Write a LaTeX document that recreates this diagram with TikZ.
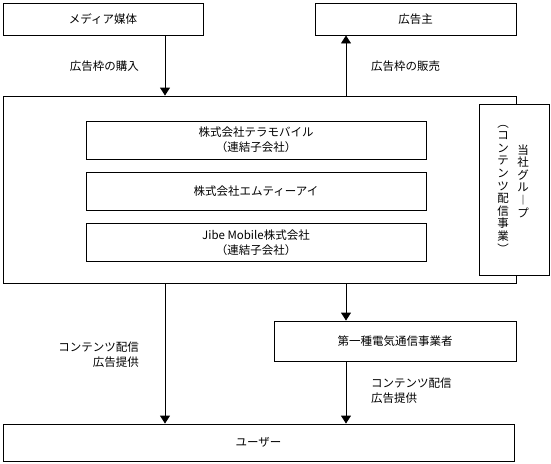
\documentclass[tikz,border=0pt]{standalone}
\usepackage{fontspec}
\setmainfont{Noto Sans CJK JP}
\usetikzlibrary{arrows.meta,positioning}

\begin{document}
\begin{tikzpicture}[x=1pt,y=-1pt,
  box/.style={draw,line width=0.9pt,fill=white,inner sep=0pt,align=center,font=\fontsize{11.5}{15}\selectfont},
  inbox/.style={box,minimum width=340pt,minimum height=38pt},
  arr/.style={-{Triangle[width=10pt,length=8pt]},line width=0.9pt},
  lbl/.style={inner sep=0pt,font=\fontsize{11.5}{15}\selectfont},
  vlbl/.style={inner sep=0pt,align=center,font=\fontsize{11.5}{12.6}\selectfont},
  node distance=12.5pt]
\useasboundingbox (0,0) rectangle (551,463);
\coordinate (leftx) at (165,0);
\coordinate (rightx) at (346,0);
\node[box,minimum width=200pt,minimum height=32pt] (media) at (103,19) {メディア媒体};
\node[box,minimum width=201pt,minimum height=32pt] (sponsor) at (415.5,19) {広告主};
\node[box,minimum width=513pt,minimum height=187pt] (group) at (259.5,189.5) {};
\node[inbox] (tera) at (256,140) {株式会社テラモバイル\\（連結子会社）};
\node[inbox,below=of tera] (mti) {株式会社エムティーアイ};
\node[inbox,below=of mti] (jibe) {Jibe Mobile株式会社\\（連結子会社）};
\node[box,minimum width=70pt,minimum height=171pt] (grouplabel) at (514,189.5) {};
\node[vlbl] (grouptitle) at (523,181) {当\\社\\グ\\ル\\︱\\プ};
\node[vlbl] (groupbiz) at (503,189) {︵\\コ\\ン\\テ\\ン\\ツ\\配\\信\\事\\業\\︶};
\node[box,minimum width=242pt,minimum height=40pt] (carrier) at (395,341) {第一種電気通信事業者};
\node[box,minimum width=511pt,minimum height=37pt] (user) at (258.5,442.5) {ユーザー};
\node[lbl,anchor=east] (buy) at (139,66) {広告枠の購入};
\node[lbl,anchor=west] (sell) at (371,66) {広告枠の販売};
\node[lbl,anchor=east,align=right] (deliverl) at (139,355) {コンテンツ配信\\広告提供};
\node[lbl,anchor=west,align=left] (deliverr) at (371,391) {コンテンツ配信\\広告提供};
\draw[arr] (media.south -| leftx)--(group.north -| leftx);
\draw[arr] (group.north -| rightx)--(sponsor.south -| rightx);
\draw[arr] (group.south -| leftx)--(user.north -| leftx);
\draw[arr] (group.south -| rightx)--(carrier.north -| rightx);
\draw[arr] (carrier.south -| rightx)--(user.north -| rightx);
\end{tikzpicture}
\end{document}
